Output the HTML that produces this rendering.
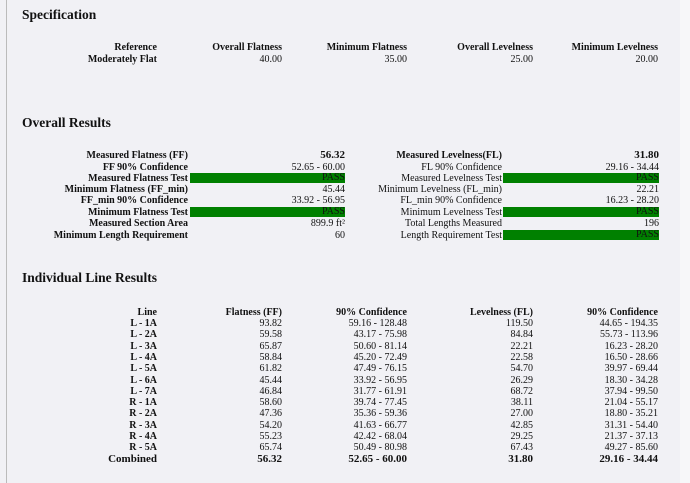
<!DOCTYPE html>
<html><head><meta charset="utf-8"><style>
body{margin:0;width:690px;height:483px;background:#f1f1f5;font-family:"Liberation Serif",serif;color:#111;position:relative;overflow:hidden}
.lb{position:absolute;left:6px;top:0;width:1px;height:483px;background:#bbb}
.rs{position:absolute;left:680px;top:0;width:10px;height:483px;background:#f7f7f9}
h2{position:absolute;left:22px;margin:0;font-size:13.5px;font-weight:bold}
.r{position:absolute;left:0;display:flex;font-size:10px;height:11px;line-height:11px}
.r div{text-align:right;flex:none}
.c0{width:157px}.c1{width:125px}.c2{width:125px}.c3{width:126px}.c4{width:125px}
.b{font-weight:bold}
.o{position:absolute;font-size:10px;line-height:11px;height:11px;text-align:right}
.g{background:#008000;color:#111;height:10px;line-height:10px}
</style></head><body>
<div class="lb"></div><div class="rs"></div>
<h2 style="top:7px">Specification</h2>
<div class="r b" style="top:42px"><div class="c0">Reference</div><div class="c1">Overall Flatness</div><div class="c2">Minimum Flatness</div><div class="c3">Overall Levelness</div><div class="c4">Minimum Levelness</div></div>
<div class="r" style="top:54px"><div class="c0 b">Moderately Flat</div><div class="c1">40.00</div><div class="c2">35.00</div><div class="c3">25.00</div><div class="c4">20.00</div></div>

<h2 style="top:115px">Overall Results</h2>
<div class="o b" style="left:0;width:188px;top:150px">Measured Flatness (FF)</div><div class="o b" style="left:190px;width:155px;top:150px;font-size:11px">56.32</div>
<div class="o b" style="left:0;width:188px;top:162px">FF 90% Confidence</div><div class="o" style="left:190px;width:155px;top:162px">52.65 - 60.00</div>
<div class="o b" style="left:0;width:188px;top:173px">Measured Flatness Test</div><div class="o g" style="left:190px;width:155px;top:173px">PASS</div>
<div class="o b" style="left:0;width:188px;top:184px">Minimum Flatness (FF_min)</div><div class="o" style="left:190px;width:155px;top:184px">45.44</div>
<div class="o b" style="left:0;width:188px;top:195px">FF_min 90% Confidence</div><div class="o" style="left:190px;width:155px;top:195px">33.92 - 56.95</div>
<div class="o b" style="left:0;width:188px;top:207px">Minimum Flatness Test</div><div class="o g" style="left:190px;width:155px;top:207px">PASS</div>
<div class="o b" style="left:0;width:188px;top:218px">Measured Section Area</div><div class="o" style="left:190px;width:155px;top:218px">899.9 ft²</div>
<div class="o b" style="left:0;width:188px;top:230px">Minimum Length Requirement</div><div class="o" style="left:190px;width:155px;top:230px">60</div>

<div class="o b" style="left:300px;width:202px;top:150px">Measured Levelness(FL)</div><div class="o b" style="left:503px;width:156px;top:150px;font-size:11px">31.80</div>
<div class="o" style="left:300px;width:202px;top:162px">FL 90% Confidence</div><div class="o" style="left:503px;width:156px;top:162px">29.16 - 34.44</div>
<div class="o" style="left:300px;width:202px;top:173px">Measured Levelness Test</div><div class="o g" style="left:503px;width:156px;top:173px">PASS</div>
<div class="o" style="left:300px;width:202px;top:184px">Minimum Levelness (FL_min)</div><div class="o" style="left:503px;width:156px;top:184px">22.21</div>
<div class="o" style="left:300px;width:202px;top:195px">FL_min 90% Confidence</div><div class="o" style="left:503px;width:156px;top:195px">16.23 - 28.20</div>
<div class="o" style="left:300px;width:202px;top:207px">Minimum Levelness Test</div><div class="o g" style="left:503px;width:156px;top:207px">PASS</div>
<div class="o" style="left:300px;width:202px;top:218px">Total Lengths Measured</div><div class="o" style="left:503px;width:156px;top:218px">196</div>
<div class="o" style="left:300px;width:202px;top:230px">Length Requirement Test</div><div class="o g" style="left:503px;width:156px;top:230px">PASS</div>

<h2 style="top:270px">Individual Line Results</h2>
<div class="r b" style="top:307px"><div class="c0">Line</div><div class="c1">Flatness (FF)</div><div class="c2">90% Confidence</div><div class="c3">Levelness (FL)</div><div class="c4">90% Confidence</div></div>
<div class="r" style="top:318px"><div class="c0 b">L - 1A</div><div class="c1">93.82</div><div class="c2">59.16 - 128.48</div><div class="c3">119.50</div><div class="c4">44.65 - 194.35</div></div>
<div class="r" style="top:329.3px"><div class="c0 b">L - 2A</div><div class="c1">59.58</div><div class="c2">43.17 - 75.98</div><div class="c3">84.84</div><div class="c4">55.73 - 113.96</div></div>
<div class="r" style="top:340.6px"><div class="c0 b">L - 3A</div><div class="c1">65.87</div><div class="c2">50.60 - 81.14</div><div class="c3">22.21</div><div class="c4">16.23 - 28.20</div></div>
<div class="r" style="top:351.9px"><div class="c0 b">L - 4A</div><div class="c1">58.84</div><div class="c2">45.20 - 72.49</div><div class="c3">22.58</div><div class="c4">16.50 - 28.66</div></div>
<div class="r" style="top:363.2px"><div class="c0 b">L - 5A</div><div class="c1">61.82</div><div class="c2">47.49 - 76.15</div><div class="c3">54.70</div><div class="c4">39.97 - 69.44</div></div>
<div class="r" style="top:374.5px"><div class="c0 b">L - 6A</div><div class="c1">45.44</div><div class="c2">33.92 - 56.95</div><div class="c3">26.29</div><div class="c4">18.30 - 34.28</div></div>
<div class="r" style="top:385.8px"><div class="c0 b">L - 7A</div><div class="c1">46.84</div><div class="c2">31.77 - 61.91</div><div class="c3">68.72</div><div class="c4">37.94 - 99.50</div></div>
<div class="r" style="top:397.1px"><div class="c0 b">R - 1A</div><div class="c1">58.60</div><div class="c2">39.74 - 77.45</div><div class="c3">38.11</div><div class="c4">21.04 - 55.17</div></div>
<div class="r" style="top:408.4px"><div class="c0 b">R - 2A</div><div class="c1">47.36</div><div class="c2">35.36 - 59.36</div><div class="c3">27.00</div><div class="c4">18.80 - 35.21</div></div>
<div class="r" style="top:419.7px"><div class="c0 b">R - 3A</div><div class="c1">54.20</div><div class="c2">41.63 - 66.77</div><div class="c3">42.85</div><div class="c4">31.31 - 54.40</div></div>
<div class="r" style="top:431px"><div class="c0 b">R - 4A</div><div class="c1">55.23</div><div class="c2">42.42 - 68.04</div><div class="c3">29.25</div><div class="c4">21.37 - 37.13</div></div>
<div class="r" style="top:442.3px"><div class="c0 b">R - 5A</div><div class="c1">65.74</div><div class="c2">50.49 - 80.98</div><div class="c3">67.43</div><div class="c4">49.27 - 85.60</div></div>
<div class="r b" style="top:453.6px;font-size:11px"><div class="c0">Combined</div><div class="c1">56.32</div><div class="c2">52.65 - 60.00</div><div class="c3">31.80</div><div class="c4">29.16 - 34.44</div></div>
</body></html>
